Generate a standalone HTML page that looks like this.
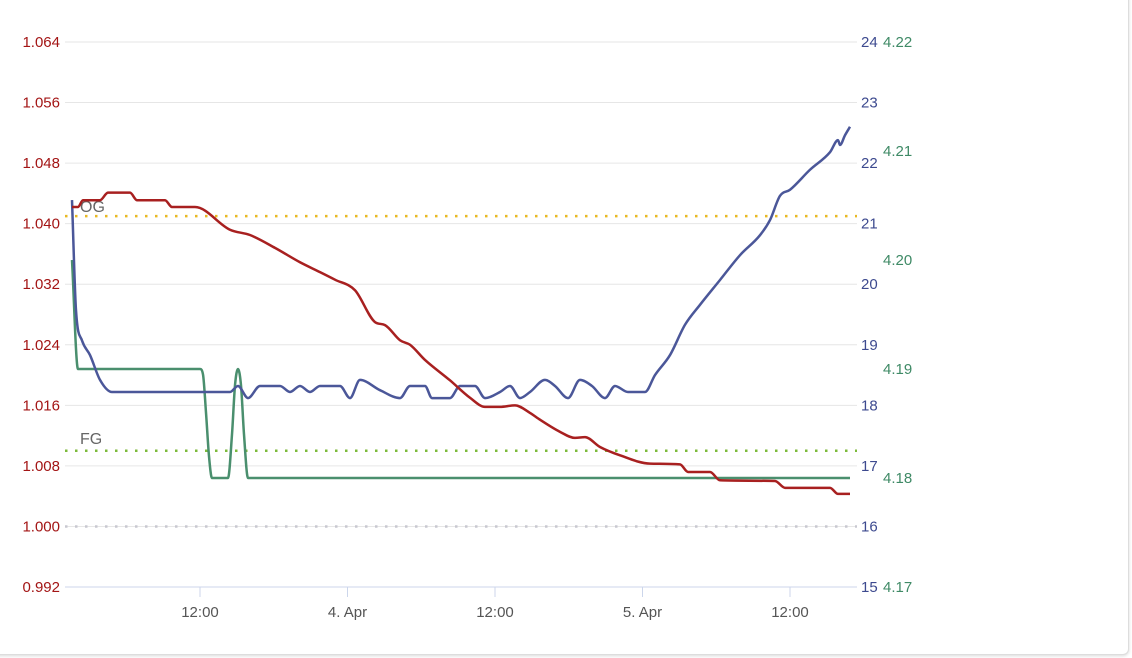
<!DOCTYPE html>
<html><head><meta charset="utf-8"><style>
body{margin:0;background:#fff;font-family:"Liberation Sans",sans-serif;}
#card{position:absolute;left:-10px;top:-10px;width:1137px;height:663px;border:1px solid #ddd;border-radius:6px;box-shadow:0 1px 3px rgba(0,0,0,.15);background:#fff}
svg{position:absolute;left:0;top:0}
text{font-family:"Liberation Sans",sans-serif;font-size:15px}
</style></head><body>
<div id="card"></div>
<svg id="chart" width="1132" height="658"></svg>
<script>
const gravityTicks=[0.992,1.000,1.008,1.016,1.024,1.032,1.040,1.048,1.056,1.064];
const tempTicks=[15,16,17,18,19,20,21,22,23,24];
const phTicks=[4.17,4.18,4.19,4.20,4.21,4.22];
const xTickHours=[12,24,36,48,60];
const xTickLabels=["12:00","4. Apr","12:00","5. Apr","12:00"];
const gravityX=[72,78,83,100,108,130,137,165,172,195,230,250,275,300,320,335,355,375,385,400,410,425,450,470,485,500,515,530,540,560,575,585,600,620,650,680,688,710,720,775,785,830,838,850];
const gravityValues=[1.0422,1.0422,1.0431,1.0431,1.0441,1.0441,1.0431,1.0431,1.0422,1.0422,1.0392,1.0385,1.0368,1.0349,1.0336,1.0326,1.0312,1.0270,1.0266,1.0246,1.0240,1.0220,1.0193,1.0170,1.0158,1.0158,1.0160,1.0150,1.0141,1.0125,1.0117,1.0118,1.0105,1.0094,1.0083,1.0082,1.0072,1.0072,1.0061,1.0060,1.0051,1.0051,1.0043,1.0043];
const tempX=[72,76,82,90,100,112,230,238,248,260,280,290,300,310,320,340,350,360,380,400,410,425,432,450,460,475,485,500,510,520,530,545,555,568,580,592,605,615,628,645,655,670,685,700,720,740,760,770,780,790,810,830,838,840,845,850];
const tempValues=[21.39,19.57,19.07,18.83,18.42,18.22,18.22,18.32,18.12,18.32,18.32,18.22,18.32,18.22,18.32,18.32,18.12,18.42,18.25,18.12,18.32,18.32,18.12,18.12,18.32,18.32,18.12,18.22,18.32,18.12,18.22,18.42,18.32,18.12,18.42,18.32,18.12,18.32,18.22,18.22,18.50,18.83,19.33,19.66,20.07,20.48,20.81,21.06,21.46,21.56,21.89,22.18,22.38,22.30,22.46,22.60];
const phX=[72,78,200,203,206,209,212,228,232,235,238,241,244,248,850];
const phValues=[4.200,4.190,4.190,4.1895,4.186,4.182,4.180,4.180,4.184,4.1885,4.190,4.1885,4.184,4.180,4.180];
const ogValue=1.0410, fgValue=1.0100, zeroValue=1.000;

const X0=65,X1=857,T=42,B=587;
const xs=h=>200+(h-12)*147.5/12;
const xpx=px=>px;
const yG=v=>T+(1.064-v)/(0.072)*(B-T);
const yT=v=>T+(24-v)/9*(B-T);
const yP=v=>T+(4.22-v)/0.05*(B-T);
const NS="http://www.w3.org/2000/svg";
const svg=document.getElementById('chart');
function el(tag,attrs,parent){const e=document.createElementNS(NS,tag);for(const k in attrs)e.setAttribute(k,attrs[k]);(parent||svg).appendChild(e);return e;}
function monotone(pts){
 const n=pts.length,d=[],m=[];
 for(let i=0;i<n-1;i++)d.push((pts[i+1][1]-pts[i][1])/(pts[i+1][0]-pts[i][0]));
 m[0]=d[0];m[n-1]=d[n-2];
 for(let i=1;i<n-1;i++){m[i]=(d[i-1]*d[i]<=0)?0:(d[i-1]+d[i])/2;}
 for(let i=0;i<n-1;i++){if(d[i]===0){m[i]=0;m[i+1]=0;continue;}const a=m[i]/d[i],b=m[i+1]/d[i],s=a*a+b*b;if(s>9){const t=3/Math.sqrt(s);m[i]=t*a*d[i];m[i+1]=t*b*d[i];}}
 let p="M"+pts[0][0]+","+pts[0][1];
 for(let i=0;i<n-1;i++){const h=(pts[i+1][0]-pts[i][0])/3;p+=`C${pts[i][0]+h},${pts[i][1]+m[i]*h} ${pts[i+1][0]-h},${pts[i+1][1]-m[i+1]*h} ${pts[i+1][0]},${pts[i+1][1]}`;}
 return p;}

gravityTicks.forEach((v,i)=>{
 const y=yG(v);
 if(i>0){const g=el('line',{x1:X0,x2:X1,y1:y,y2:y,stroke:'#e6e6e6','stroke-width':1});
 }
 const t=el('text',{x:60,y:y+5,'text-anchor':'end',fill:'#a31515'});t.textContent=v.toFixed(3);
 
});
const ax=el('line',{x1:X0,x2:X1,y1:B,y2:B,stroke:'#ccd6eb','stroke-width':1});

tempTicks.forEach(v=>{const t=el('text',{x:861,y:yT(v)+5,fill:'#3d4a8f'});t.textContent=v;
 });
phTicks.forEach(v=>{const t=el('text',{x:883,y:yP(v)+5,fill:'#3f8a66'});t.textContent=v.toFixed(2);
 });
xTickHours.forEach((h,i)=>{const x=xs(h);
 const tk=el('line',{x1:x,x2:x,y1:B,y2:B+10,stroke:'#ccd6eb'});
 const t=el('text',{x:x,y:B+30,'text-anchor':'middle',fill:'#555'});t.textContent=xTickLabels[i];
 });

[[ogValue,'#e8b923','og-line'],[fgValue,'#7cba3a','fg-line'],[zeroValue,'#c8c8d0','zero-line']].forEach(([v,c,n])=>{
 const l=el('line',{x1:X0,x2:X1,y1:yG(v),y2:yG(v),stroke:c,'stroke-width':2.5,'stroke-dasharray':'2.5,7.5'});
 });
const og=el('text',{x:80,y:yG(ogValue)-4,fill:'#666',style:'font-size:16px'});og.textContent='OG';

const fg=el('text',{x:80,y:yG(fgValue)-7,fill:'#666',style:'font-size:16px'});fg.textContent='FG';


const ph=el('path',{d:monotone(phX.map((x,i)=>[xpx(x),yP(phValues[i])])),fill:'none',stroke:'#4a8f6e','stroke-width':2.5});

const tp=el('path',{d:monotone(tempX.map((x,i)=>[xpx(x),yT(tempValues[i])])),fill:'none',stroke:'#4b5799','stroke-width':2.5});

const gp=el('path',{d:monotone(gravityX.map((x,i)=>[xpx(x),yG(gravityValues[i])])),fill:'none',stroke:'#a82020','stroke-width':2.5});

</script>
</body></html>
